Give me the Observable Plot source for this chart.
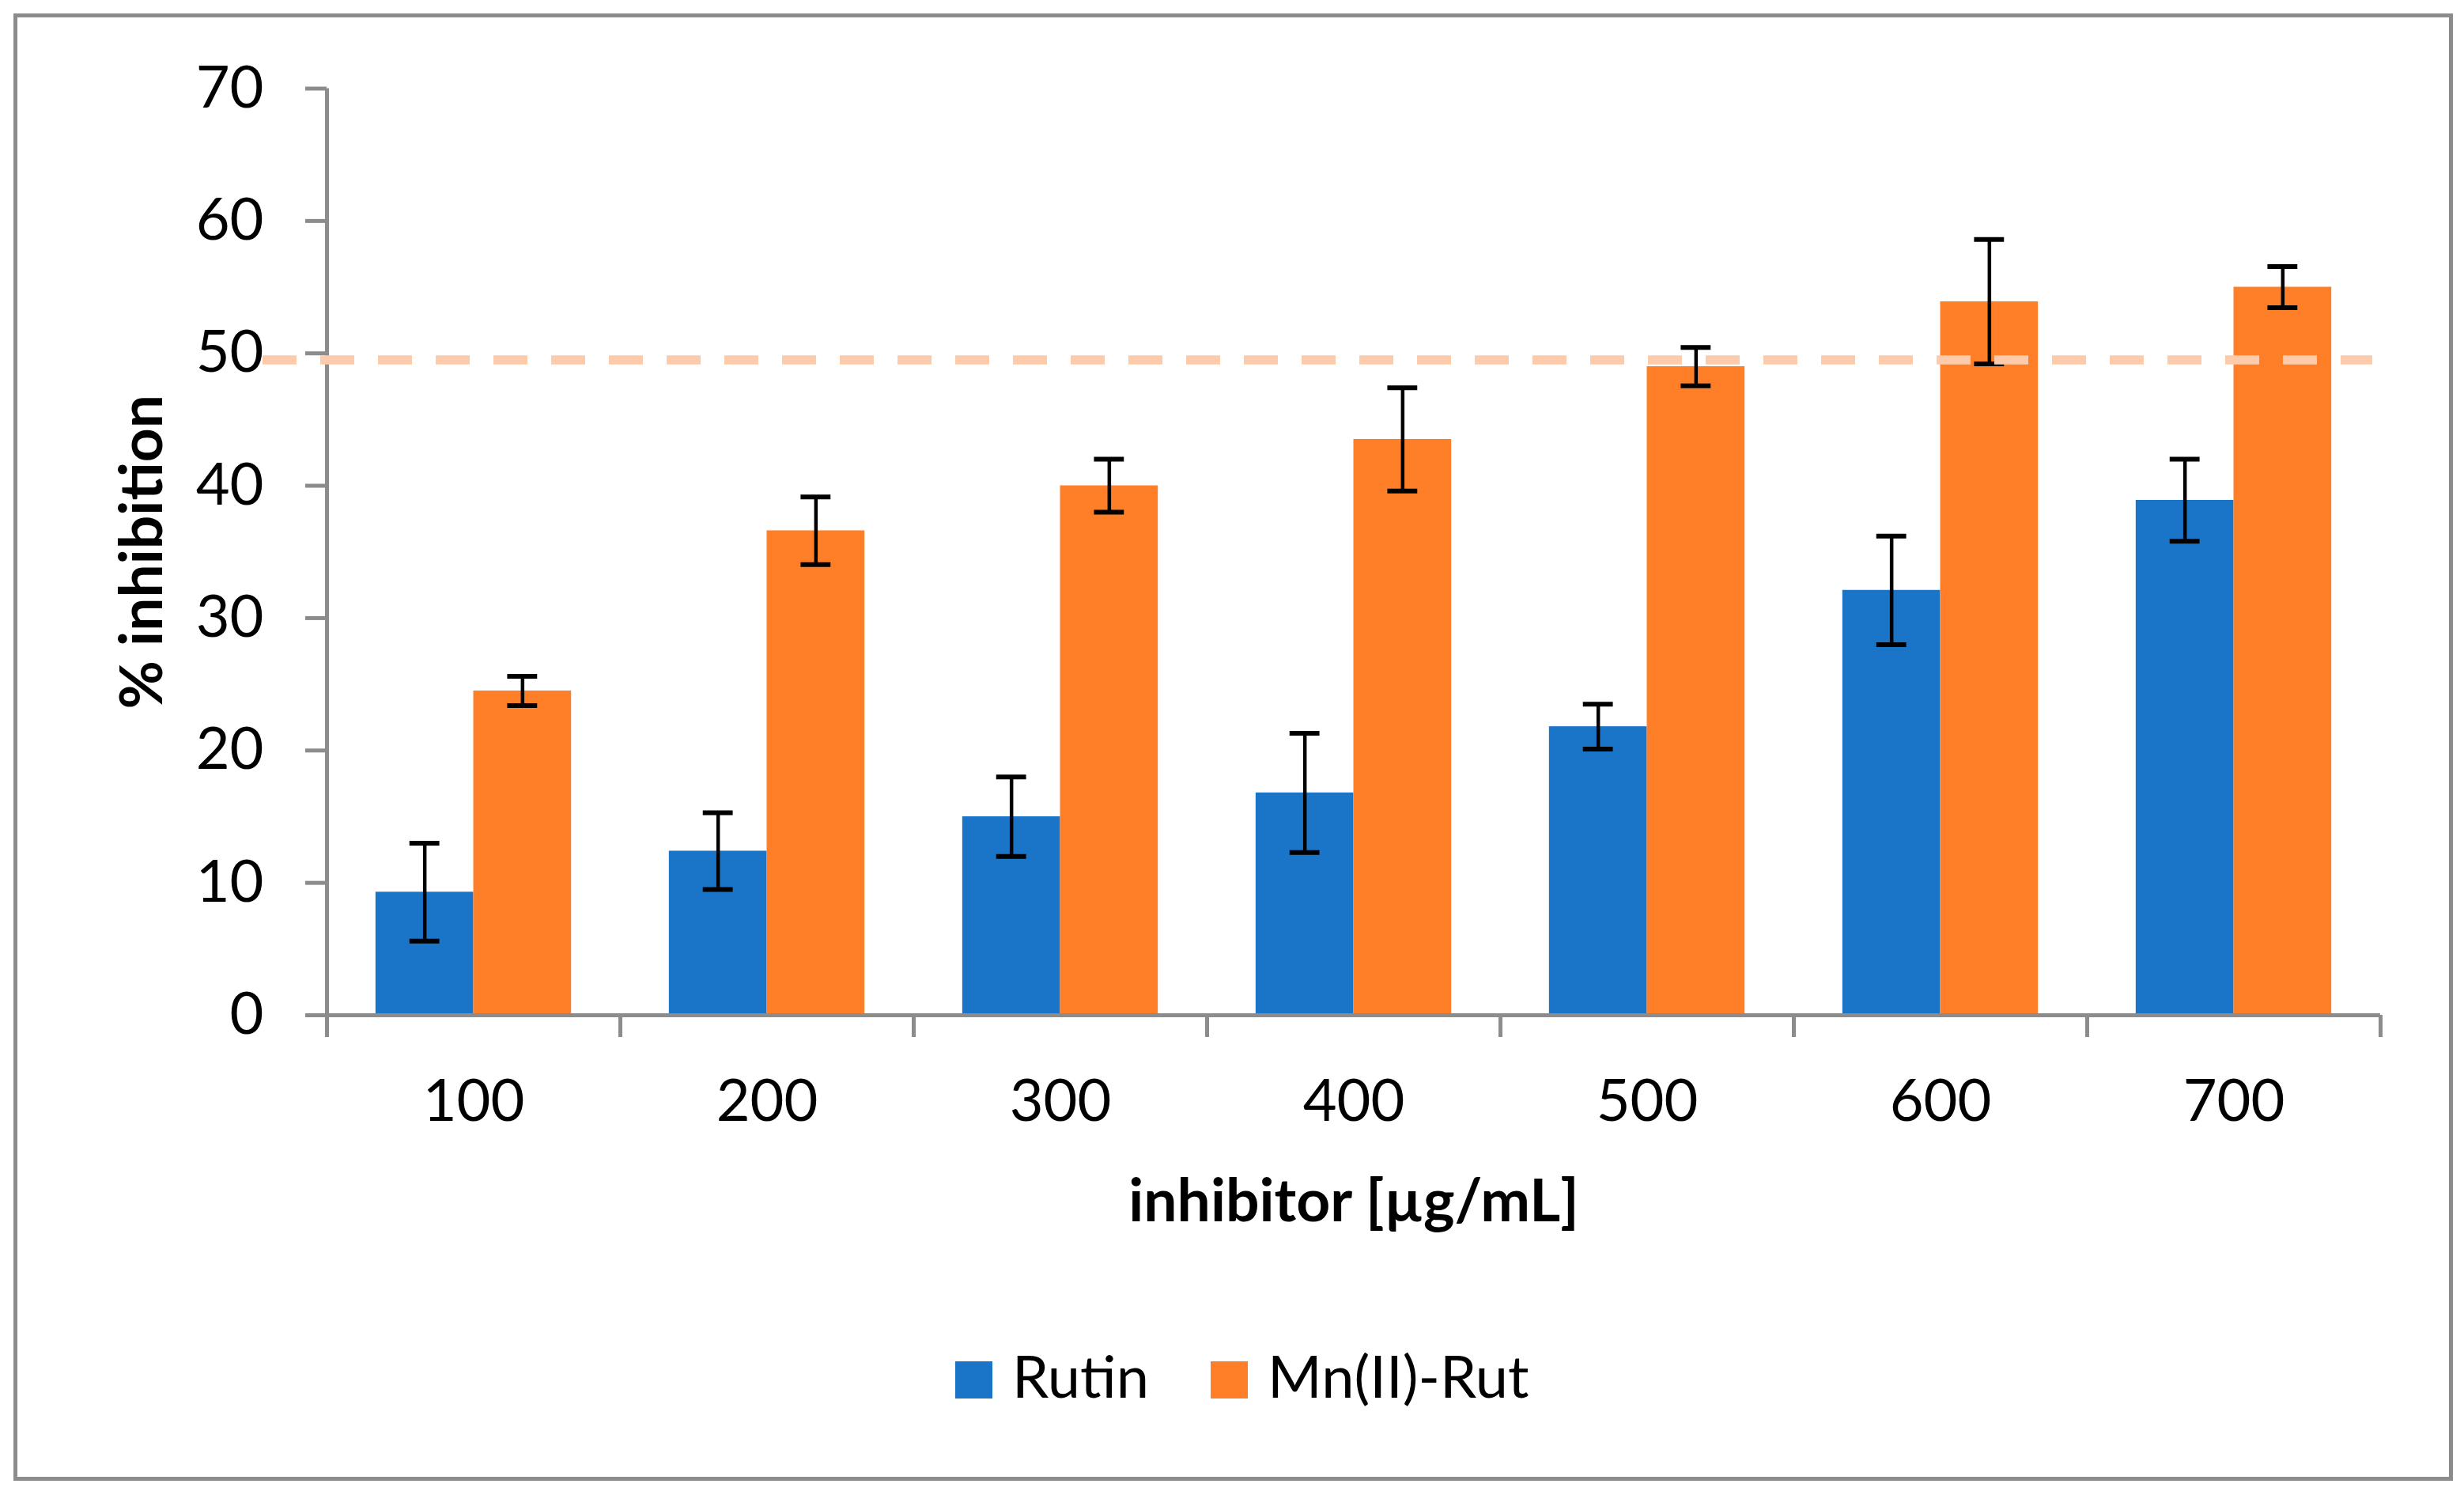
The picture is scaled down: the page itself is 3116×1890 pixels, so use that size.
<!DOCTYPE html>
<html>
<head>
<meta charset="utf-8">
<script src="https://cdn.jsdelivr.net/npm/d3@7"></script>
<script src="https://cdn.jsdelivr.net/npm/@observablehq/plot@0.6"></script>
<style>
  html, body { margin: 0; padding: 0; background: #ffffff; }
  body { width: 3116px; height: 1890px; position: relative; overflow: hidden; font-family: Lato, "Open Sans", sans-serif; }
  #frame { position: absolute; left: 17px; top: 17px; width: 3085px; height: 1855px; box-sizing: border-box; border: 5px solid #8c8c8c; }
  #chart { position: absolute; left: 0; top: 0; }
  #legend { position: absolute; left: 1208px; top: 1702px; display: flex; font-size: 74px; line-height: 74px; color: #000; white-space: nowrap; }
  .item { display: flex; align-items: flex-start; }
  .item + .item { margin-left: 78px; }
  .swatch { width: 47px; height: 47px; margin-top: 19px; margin-right: 25px; }
</style>
</head>
<body>
<div id="frame"></div>
<div id="chart"></div>
<div id="legend"></div>
<script>
// ---- data ----
const concentrations = ["100", "200", "300", "400", "500", "600", "700"];
const seriesNames = ["Rutin", "Mn(II)-Rut"];
const rutin = [9.3, 12.4, 15.0, 16.8, 21.8, 32.1, 38.9];
const rutinErr = [3.7, 2.9, 3.0, 4.5, 1.7, 4.1, 3.1];
const mnRut = [24.5, 36.6, 40.0, 43.5, 49.0, 53.9, 55.0];
const mnRutErr = [1.1, 2.55, 2.0, 3.9, 1.45, 4.7, 1.55];
const yTicks = [0, 10, 20, 30, 40, 50, 60, 70];
const refLine = [49.5];
const xTitle = "inhibitor [µg/mL]";
const yTitle = "% inhibition";

// ---- style ----
const colors = ["#1a74c8", "#fe7f28"];
const axisGray = "#8c8c8c";
const dashColor = "#fdcbab";
const groupGap = 1 / 3;               // fraction of a category left empty (Excel gap width 50%)
const barFrac = (1 - groupGap) / seriesNames.length;
const capFrac = 0.102;                // error-bar cap width as fraction of a category

const values = [rutin, mnRut];
const errors = [rutinErr, mnRutErr];
const rows = concentrations.flatMap((c, i) => seriesNames.map((s, k) => ({
  conc: c, i, series: s, k, value: values[k][i], err: errors[k][i]
})));
const x1 = d => d.i + groupGap / 2 + d.k * barFrac;
const cx = d => x1(d) + barFrac / 2;

const plot = Plot.plot({
  width: 3116,
  height: 1650,
  marginLeft: 413,
  marginRight: 106,
  marginTop: 111.5,
  marginBottom: 367,
  style: { fontFamily: "Lato, 'Open Sans', sans-serif", fontSize: "74px", color: "#000", background: "transparent", overflow: "visible" },
  x: { type: "linear", domain: [0, concentrations.length] },
  y: { domain: [yTicks[0], yTicks[yTicks.length - 1]] },
  color: { domain: seriesNames, range: colors },
  marks: [
    Plot.rectY(rows, { x1, x2: d => x1(d) + barFrac, y1: 0, y2: "value", fill: "series" }),
    Plot.ruleX(rows, { x: cx, y1: d => d.value - d.err, y2: d => d.value + d.err, stroke: "#000", strokeWidth: 4.5 }),
    Plot.ruleY(rows, { y: d => d.value + d.err, x1: d => cx(d) - capFrac / 2, x2: d => cx(d) + capFrac / 2, stroke: "#000", strokeWidth: 6 }),
    Plot.ruleY(rows, { y: d => d.value - d.err, x1: d => cx(d) - capFrac / 2, x2: d => cx(d) + capFrac / 2, stroke: "#000", strokeWidth: 6 }),
    // axis lines
    Plot.ruleX([0], { stroke: axisGray, strokeWidth: 5 }),
    Plot.ruleY([0], { stroke: axisGray, strokeWidth: 5 }),
    // y axis ticks + labels
    Plot.axisY({ ticks: yTicks, tickSize: 27, tickPadding: 53, stroke: axisGray, strokeWidth: 5, fill: "#000", fontSize: 74, label: null }),
    // y title
    Plot.axisY({ ticks: [], label: yTitle, labelAnchor: "center", labelOffset: 262, labelArrow: "none", fontWeight: "bold", fontSize: 75, fill: "#000" }),
    // x ticks at category boundaries
    Plot.axisX({ ticks: d3.range(concentrations.length + 1), tickSize: 28, tickFormat: () => "", stroke: axisGray, strokeWidth: 5, label: null }),
    // x category labels centred in each category
    Plot.axisX({ ticks: concentrations.map((c, i) => i + 0.5), tickSize: 0, tickPadding: 81, tickFormat: v => concentrations[Math.floor(v)], fill: "#000", fontSize: 74, label: null }),
    // x title
    Plot.axisX({ ticks: [], label: xTitle, labelAnchor: "center", labelOffset: 260, labelArrow: "none", fontWeight: "bold", fontSize: 75, fill: "#000" }),
    // reference dashed line
    Plot.ruleY(refLine, { stroke: dashColor, strokeWidth: 11.5, strokeDasharray: "43,30", insetLeft: -81, insetRight: 10 })
  ]
});
document.getElementById("chart").appendChild(plot);

// legend (HTML, below the SVG)
const legend = d3.select("#legend");
seriesNames.forEach((s, k) => {
  const item = legend.append("div").attr("class", "item");
  item.append("div").attr("class", "swatch").style("background", colors[k]);
  item.append("span").text(s);
});
</script>
</body>
</html>
